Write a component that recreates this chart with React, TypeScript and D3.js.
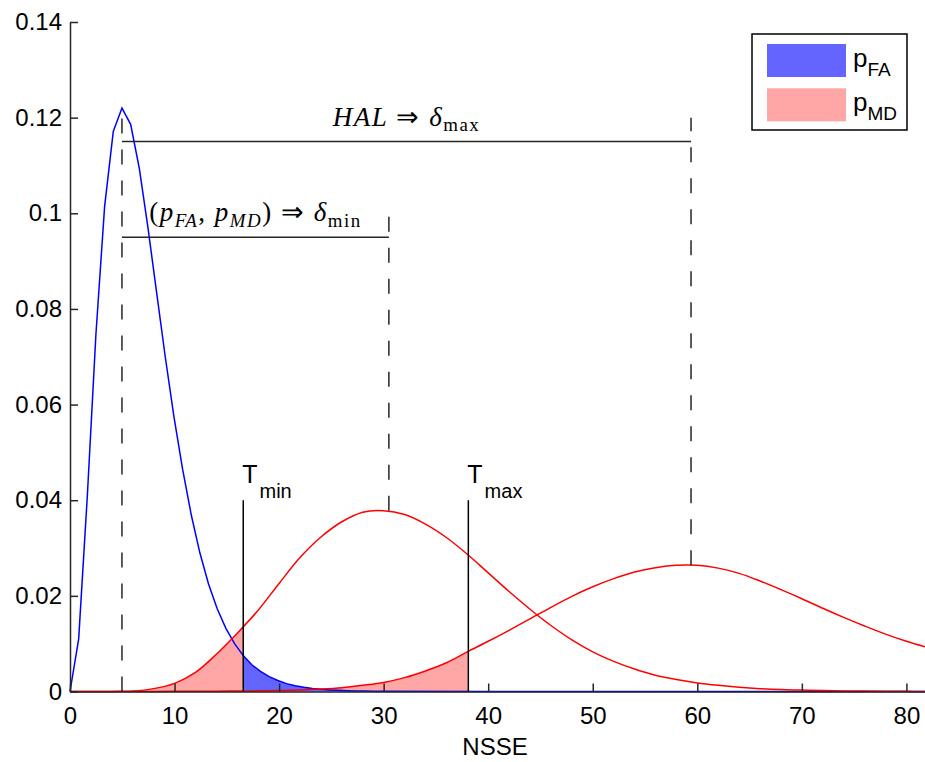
import React, { useRef, useEffect } from 'react';
import * as d3 from 'd3';

// central chi-square (false alarm) curve, sampled like the original plot
const faX = [0, 0.83, 1.66, 2.48, 3.31, 4.14, 4.97, 5.80, 6.63, 7.45, 8.28, 9.11, 9.94, 10.77, 11.60,
  12.42, 13.25, 14.08, 14.91, 15.74, 16.57, 17.39, 18.22, 19.05, 19.88, 20.71, 21.54, 22.36, 23.19,
  24.02, 24.85, 25.68, 26.50, 27.33, 28.16, 28.99, 29.82, 40, 60, 82];
const faValues = [0, 0.0110, 0.0410, 0.0747, 0.1014, 0.1171, 0.1220, 0.1186, 0.1094, 0.0971, 0.0835,
  0.0700, 0.0575, 0.0465, 0.0369, 0.0290, 0.0225, 0.0173, 0.0132, 0.0100, 0.0075, 0.0056, 0.0042,
  0.0031, 0.0023, 0.00165, 0.00121, 0.00088, 0.00063, 0.00046, 0.00033, 0.00024, 0.00017, 0.00012,
  0.00009, 0.00006, 0.00004, 0, 0, 0];

// missed detection curves (delta min / delta max)
const mdX = [0, 4, 6, 8, 10, 12, 14, 16, 18, 20, 22, 24, 26, 28, 30, 32, 34, 36, 38, 40, 42, 44, 46,
  48, 50, 52, 54, 56, 58, 60, 62, 64, 66, 68, 70, 72, 74, 76, 78, 80, 82];
const mdMinValues = [0, 0.00002, 0.0001, 0.0006, 0.0017, 0.0040, 0.0078, 0.0122, 0.0170, 0.0226,
  0.0280, 0.0323, 0.0355, 0.0375, 0.0378, 0.0370, 0.0350, 0.0322, 0.0287, 0.0248, 0.0209, 0.0172,
  0.0138, 0.0108, 0.0083, 0.0063, 0.0047, 0.0034, 0.0025, 0.0018, 0.0013, 0.0009, 0.0006, 0.0004,
  0.0003, 0.0002, 0.00012, 0.00008, 0.00005, 0.00003, 0.00002];
const mdMaxValues = [0, 0, 0.00001, 0.00002, 0.00003, 0.00004, 0.00006, 0.0001, 0.00014, 0.0002,
  0.0003, 0.0005, 0.0008, 0.0013, 0.0019, 0.0029, 0.0043, 0.0060, 0.0083, 0.0105, 0.0128, 0.0152,
  0.0176, 0.0199, 0.0219, 0.0236, 0.0250, 0.0259, 0.0264, 0.0264, 0.0258, 0.0247, 0.0231, 0.0213,
  0.0194, 0.0174, 0.0155, 0.0137, 0.0120, 0.0105, 0.0092];

const xTicks = [0, 10, 20, 30, 40, 50, 60, 70, 80];
const yTicks = [0, 0.02, 0.04, 0.06, 0.08, 0.1, 0.12, 0.14];
const yTickLabels = ['0', '0.02', '0.04', '0.06', '0.08', '0.1', '0.12', '0.14'];

const thresholdNames = ['min', 'max'];
const thresholdValues = [16.57, 38.1];
const thresholdTop = 0.04;

// dashed markers: central peak, delta min peak, delta max peak
const deltaX = [4.97, 30.5, 59.4];
const deltaBottom = [0, 0.0378, 0.0264];
const deltaTop = [0.12, 0.1, 0.12];
const bracketLevels = [0.095, 0.115];

const legendNames = ['FA', 'MD'];
const blueFill = '#6464ff';
const pinkFill = '#ffa6a6';

const App = () => {
  const chartRef = useRef(null);

  useEffect(() => {
    const width = 925;
    const height = 762;
    const marginLeft = 70;
    const pxPerUnit = 10.455;
    const bottom = 691.5;
    const top = 22;
    const sans = '"Liberation Sans", Arial, sans-serif';
    const serif = '"Liberation Serif", "Times New Roman", serif';
    const axisColor = '#262626';

    const svg = d3.select(chartRef.current)
      .attr('width', width)
      .attr('height', height)
      .attr('viewBox', [0, 0, width, height]);
    svg.selectAll('*').remove();

    const x = d3.scaleLinear().domain([0, 82]).range([marginLeft, marginLeft + 82 * pxPerUnit]);
    const y = d3.scaleLinear().domain([0, 0.14]).range([bottom, top]);

    const fa = faX.map((d, i) => [d, faValues[i]]);
    const mdMin = mdX.map((d, i) => [d, mdMinValues[i]]);
    const mdMax = mdX.map((d, i) => [d, mdMaxValues[i]]);

    const line = d3.line().x(d => x(d[0])).y(d => y(d[1]));
    const smoothLine = d3.line().x(d => x(d[0])).y(d => y(d[1])).curve(d3.curveCatmullRom.alpha(0.5));
    const area = d3.area().x(d => x(d[0])).y0(y(0)).y1(d => y(d[1]));
    const smoothArea = d3.area().x(d => x(d[0])).y0(y(0)).y1(d => y(d[1])).curve(d3.curveCatmullRom.alpha(0.5));

    const defs = svg.append('defs');
    const clip = (id, x0, x1) => {
      defs.append('clipPath').attr('id', id)
        .append('rect')
        .attr('x', x(x0)).attr('y', 0)
        .attr('width', x(x1) - x(x0)).attr('height', height);
    };
    clip('clipMin', 0, thresholdValues[0]);
    clip('clipMax', 0, thresholdValues[1]);
    clip('clipFa', thresholdValues[0], 82);

    // filled tails
    svg.append('path').attr('d', smoothArea(mdMin)).attr('fill', pinkFill).attr('clip-path', 'url(#clipMin)');
    svg.append('path').attr('d', smoothArea(mdMax)).attr('fill', pinkFill).attr('clip-path', 'url(#clipMax)');
    svg.append('path').attr('d', area(fa)).attr('fill', blueFill).attr('clip-path', 'url(#clipFa)');

    // curves
    svg.append('path').attr('d', line(fa)).attr('fill', 'none').attr('stroke', '#0000ff').attr('stroke-width', 1.5);
    [mdMin, mdMax].forEach(s => {
      svg.append('path').attr('d', smoothLine(s)).attr('fill', 'none').attr('stroke', '#ff0000').attr('stroke-width', 1.5);
    });

    // thresholds
    thresholdValues.forEach((t, i) => {
      svg.append('line')
        .attr('x1', x(t)).attr('x2', x(t))
        .attr('y1', y(0)).attr('y2', y(thresholdTop))
        .attr('stroke', '#000').attr('stroke-width', 1.5);
      const label = svg.append('text')
        .attr('x', x(t) - 1).attr('y', y(thresholdTop) - 17)
        .attr('font-family', sans).attr('font-size', 25).attr('fill', '#000');
      label.append('tspan').text('T');
      label.append('tspan').text(thresholdNames[i]).attr('font-size', 20).attr('dy', 15).attr('dx', 2);
    });

    // dashed markers and brackets
    deltaX.forEach((d, i) => {
      svg.append('line')
        .attr('x1', x(d)).attr('x2', x(d))
        .attr('y1', y(deltaBottom[i])).attr('y2', y(deltaTop[i]))
        .attr('stroke', axisColor).attr('stroke-width', 1.5)
        .attr('stroke-dasharray', '15,16');
    });
    bracketLevels.forEach((lvl, i) => {
      svg.append('line')
        .attr('x1', x(deltaX[0])).attr('x2', x(deltaX[i + 1]))
        .attr('y1', y(lvl)).attr('y2', y(lvl))
        .attr('stroke', axisColor).attr('stroke-width', 1.5);
    });

    const richText = (sel, parts, size) => {
      let shifted = false;
      parts.forEach(p => {
        const ts = sel.append('tspan').text(p.t)
          .attr('font-style', p.it ? 'italic' : 'normal')
          .attr('font-size', p.sub ? size * 0.7 : size);
        if (p.sub && !shifted) { ts.attr('dy', size * 0.22); shifted = true; }
        else if (!p.sub && shifted) { ts.attr('dy', -size * 0.22); shifted = false; }
      });
    };

    const mathLabels = [
      [{ t: '(' }, { t: 'p', it: true }, { t: 'FA', it: true, sub: true }, { t: ', ' }, { t: 'p', it: true },
        { t: 'MD', it: true, sub: true }, { t: ')' }, { t: ' ⇒ ' }, { t: 'δ', it: true }, { t: 'min', sub: true }],
      [{ t: 'HAL', it: true }, { t: ' ⇒ ' }, { t: 'δ', it: true }, { t: 'max', sub: true }]
    ];
    bracketLevels.forEach((lvl, i) => {
      const t = svg.append('text')
        .attr('x', (x(deltaX[0]) + x(deltaX[i + 1])) / 2)
        .attr('y', y(lvl) - 16)
        .attr('text-anchor', 'middle')
        .attr('font-family', serif)
        .attr('letter-spacing', 1.5)
        .style('white-space', 'pre')
        .attr('fill', '#000');
      richText(t, mathLabels[i], 27);
    });

    // axes
    const xAxis = svg.append('g')
      .attr('transform', `translate(0,${bottom})`)
      .call(d3.axisBottom(x).tickValues(xTicks).tickFormat(d3.format('d')).tickSizeInner(-8).tickSizeOuter(0).tickPadding(15.5));
    const yAxis = svg.append('g')
      .attr('transform', `translate(${marginLeft},0)`)
      .call(d3.axisLeft(y).tickValues(yTicks).tickFormat((d, i) => yTickLabels[i]).tickSizeInner(-8).tickSizeOuter(0).tickPadding(8));
    [xAxis, yAxis].forEach(g => {
      g.attr('font-family', sans).attr('font-size', 24);
      g.select('.domain').attr('stroke', axisColor).attr('stroke-width', 1.5);
      g.selectAll('.tick line').attr('stroke', axisColor).attr('stroke-width', 1.5);
      g.selectAll('.tick text').attr('fill', '#000');
    });

    svg.append('text')
      .attr('x', (marginLeft + 920) / 2).attr('y', 755)
      .attr('text-anchor', 'middle')
      .attr('font-family', sans).attr('font-size', 24)
      .text('NSSE');

    // legend
    const legend = svg.append('g');
    legend.append('rect')
      .attr('x', 752).attr('y', 34).attr('width', 155).attr('height', 96)
      .attr('fill', '#fff').attr('stroke', '#000').attr('stroke-width', 1.5);
    [blueFill, pinkFill].forEach((c, i) => {
      legend.append('rect')
        .attr('x', 767).attr('y', 44 + i * 44.3).attr('width', 79).attr('height', 33)
        .attr('fill', c);
      const lt = legend.append('text')
        .attr('x', 853).attr('y', 67 + i * 44.3)
        .attr('font-family', sans).attr('font-size', 26).attr('fill', '#000');
      lt.append('tspan').text('p');
      lt.append('tspan').text(legendNames[i]).attr('font-size', 19).attr('dy', 9);
    });
  }, []);

  return <svg ref={chartRef} style={{ position: 'absolute', left: 0, top: 0 }}></svg>;
};

export default App;
